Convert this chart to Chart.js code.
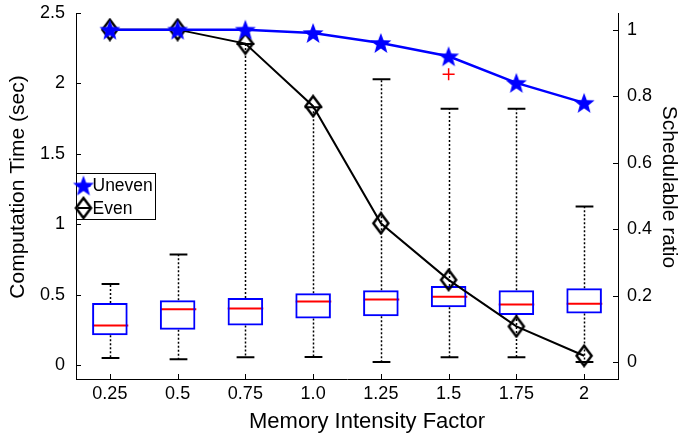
<!DOCTYPE html>
<html>
<head>
<meta charset="utf-8">
<script src="https://cdn.jsdelivr.net/npm/chart.js@4"></script>
<style>
html, body { margin: 0; padding: 0; background: #fff; }
</style>
</head>
<body>
<canvas id="memChart" width="678" height="436"></canvas>
<script>
const factors = ["0.25", "0.5", "0.75", "1.0", "1.25", "1.5", "1.75", "2"];

// computation time (sec) box plot per factor
const timeLow  = [0.05, 0.04, 0.055, 0.057, 0.02, 0.055, 0.055, 0.02];
const timeQ1   = [0.21, 0.25, 0.28, 0.33, 0.345, 0.41, 0.355, 0.365];
const timeMed  = [0.28, 0.395, 0.40, 0.45, 0.465, 0.485, 0.43, 0.435];
const timeQ3   = [0.44, 0.46, 0.475, 0.51, 0.53, 0.56, 0.53, 0.545];
const timeHigh = [0.575, 0.785, 2.28, 1.83, 2.03, 1.82, 1.82, 1.125];
const timeOutlier = [null, null, null, null, null, 2.065, null, null];

// schedulable ratio
const unevenRatio = [1.0, 1.0, 1.0, 0.99, 0.96, 0.92, 0.84, 0.78];
const evenRatio   = [1.0, 1.0, 0.958, 0.77, 0.418, 0.248, 0.108, 0.02];

const timeTicks = [0, 0.5, 1, 1.5, 2, 2.5];
const timeTickLabels = ["0", "0.5", "1", "1.5", "2", "2.5"];
const ratioTicks = [0, 0.2, 0.4, 0.6, 0.8, 1];
const ratioTickLabels = ["0", "0.2", "0.4", "0.6", "0.8", "1"];

const FONT = '"Liberation Sans", Arial, Helvetica, sans-serif';
Chart.defaults.font.family = FONT;
Chart.defaults.color = "#000";

function starMarker(color) {
  const c = document.createElement("canvas");
  c.width = 24; c.height = 24;
  const g = c.getContext("2d");
  g.beginPath();
  for (let i = 0; i < 10; i++) {
    const r = i % 2 ? 4.6 : 11;
    const a = -Math.PI / 2 + i * Math.PI / 5;
    g.lineTo(12 + r * Math.cos(a), 13 + r * Math.sin(a));
  }
  g.closePath();
  g.fillStyle = color;
  g.fill();
  return c;
}

function diamondMarker(color) {
  const c = document.createElement("canvas");
  c.width = 20; c.height = 24;
  const g = c.getContext("2d");
  g.beginPath();
  g.moveTo(10, 2); g.lineTo(17.5, 12); g.lineTo(10, 22); g.lineTo(2.5, 12);
  g.closePath();
  g.lineWidth = 2.5;
  g.strokeStyle = color;
  g.stroke();
  return c;
}

// whiskers, caps and medians of the boxes
const boxExtras = {
  id: "boxExtras",
  beforeDatasetsDraw(chart) {
    const ctx = chart.ctx;
    const xs = chart.scales.x, ys = chart.scales.y;
    const bars = chart.getDatasetMeta(2).data;
    ctx.save();
    factors.forEach((f, i) => {
      const cx = Math.round(xs.getPixelForValue(i)) + 0.5;
      const half = bars[i].width / 2;
      const yLow = ys.getPixelForValue(timeLow[i]);
      const yQ1 = ys.getPixelForValue(timeQ1[i]);
      const yMed = ys.getPixelForValue(timeMed[i]);
      const yQ3 = ys.getPixelForValue(timeQ3[i]);
      const yHigh = ys.getPixelForValue(timeHigh[i]);

      ctx.strokeStyle = "#000";
      ctx.lineWidth = 1.5;
      ctx.setLineDash([2, 2]);
      ctx.beginPath();
      ctx.moveTo(cx, yQ1); ctx.lineTo(cx, yLow);
      ctx.moveTo(cx, yQ3); ctx.lineTo(cx, yHigh);
      ctx.stroke();

      ctx.setLineDash([]);
      ctx.lineWidth = 2;
      ctx.beginPath();
      ctx.moveTo(cx - half / 2, yLow); ctx.lineTo(cx + half / 2, yLow);
      ctx.moveTo(cx - half / 2, yHigh); ctx.lineTo(cx + half / 2, yHigh);
      ctx.stroke();

      ctx.strokeStyle = "#ff0000";
      ctx.beginPath();
      ctx.moveTo(cx - half, yMed); ctx.lineTo(cx + half, yMed);
      ctx.stroke();
    });
    ctx.restore();
  }
};

// matlab style ticks pointing into the plot
const innerTicks = {
  id: "innerTicks",
  afterDraw(chart) {
    const { ctx, chartArea: a, scales } = chart;
    ctx.save();
    ctx.strokeStyle = "#000";
    ctx.lineWidth = 1;
    ctx.beginPath();
    scales.x.ticks.forEach((t, i) => {
      const px = Math.round(scales.x.getPixelForTick(i)) + 0.5;
      ctx.moveTo(px, a.bottom); ctx.lineTo(px, a.bottom - 5);
    });
    scales.y.ticks.forEach((t, i) => {
      const py = Math.round(scales.y.getPixelForTick(i)) + 0.5;
      ctx.moveTo(a.left, py); ctx.lineTo(a.left + 5, py);
    });
    scales.y2.ticks.forEach((t, i) => {
      const py = Math.round(scales.y2.getPixelForTick(i)) + 0.5;
      ctx.moveTo(a.right, py); ctx.lineTo(a.right - 5, py);
    });
    ctx.stroke();
    ctx.restore();
  }
};

// axis titles placed like the matlab figure (slightly off centre)
const axisTitles = {
  id: "axisTitles",
  afterDraw(chart) {
    const ctx = chart.ctx, a = chart.chartArea;
    const midY = (a.top + a.bottom) / 2 - 9;
    ctx.save();
    ctx.fillStyle = "#000";
    ctx.textAlign = "center";
    ctx.textBaseline = "middle";

    ctx.font = "22px " + FONT;
    ctx.fillText("Memory Intensity Factor", (a.left + a.right) / 2 + 20, a.bottom + 43);

    ctx.font = "21px " + FONT;
    ctx.save();
    ctx.translate(a.left - 58, midY);
    ctx.rotate(-Math.PI / 2);
    ctx.fillText("Computation Time (sec)", 0, 0);
    ctx.restore();

    ctx.save();
    ctx.translate(a.right + 51, midY);
    ctx.rotate(Math.PI / 2);
    ctx.fillText("Schedulable ratio", 0, 0);
    ctx.restore();
    ctx.restore();
  }
};

// boxed legend inside the plot, left side
const boxedLegend = {
  id: "boxedLegend",
  afterDraw(chart) {
    const ctx = chart.ctx, a = chart.chartArea;
    const left = Math.round(a.left) + 0.5, top = Math.round(a.top + 160) + 0.5;
    ctx.save();
    ctx.fillStyle = "#fff";
    ctx.fillRect(left, top, 79, 46);
    ctx.strokeStyle = "#000";
    ctx.lineWidth = 1;
    ctx.strokeRect(left, top, 79, 46);
    ctx.font = "17.5px " + FONT;
    ctx.textBaseline = "middle";
    [0, 1].forEach(i => {
      const ds = chart.data.datasets[i];
      const rowY = top + 12 + i * 22.5;
      ctx.strokeStyle = ds.borderColor;
      ctx.lineWidth = ds.borderWidth;
      ctx.beginPath();
      ctx.moveTo(left + 1, rowY); ctx.lineTo(left + 14, rowY);
      ctx.stroke();
      const img = ds.pointStyle;
      ctx.drawImage(img, left + 7 - img.width / 2, rowY - img.height / 2);
      ctx.fillStyle = "#000";
      ctx.fillText(ds.label, left + 16, rowY + 1);
    });
    ctx.restore();
  }
};

const axisLine = { display: true, color: "#000", width: 1 };
const noGrid = { drawOnChartArea: false, drawTicks: false };
function noPad(s) { s.paddingTop = 0; s.paddingBottom = 0; s.paddingLeft = 0; s.paddingRight = 0; }

new Chart(document.getElementById("memChart"), {
  data: {
    labels: factors,
    datasets: [
      {
        type: "line", label: "Uneven", data: unevenRatio, yAxisID: "y2",
        borderColor: "#0000ff", borderWidth: 2.5, pointStyle: starMarker("#0000ff"), tension: 0
      },
      {
        type: "line", label: "Even", data: evenRatio, yAxisID: "y2",
        borderColor: "#000", borderWidth: 2, pointStyle: diamondMarker("#000"), tension: 0
      },
      {
        type: "bar", label: "Computation time", data: timeQ1.map((q, i) => [q, timeQ3[i]]), yAxisID: "y",
        backgroundColor: "rgba(0,0,0,0)", borderColor: "#0000ff", borderWidth: 2, borderSkipped: false,
        barPercentage: 0.525, categoryPercentage: 1
      },
      {
        type: "line", label: "Outlier", data: timeOutlier, yAxisID: "y", showLine: false,
        pointStyle: "cross", pointRadius: 6, pointBorderWidth: 1.5, borderColor: "#ff0000"
      }
    ]
  },
  options: {
    responsive: false,
    animation: false,
    layout: { padding: { top: 13 } },
    plugins: { legend: { display: false }, tooltip: { enabled: false } },
    scales: {
      x: {
        offset: true,
        grid: noGrid,
        border: axisLine,
        ticks: { font: { size: 18 }, padding: 4, maxRotation: 0 },
        afterFit(s) { s.height = 57; noPad(s); }
      },
      y: {
        position: "left",
        min: -0.1, max: 2.5,
        grid: noGrid,
        border: axisLine,
        afterBuildTicks(s) { s.ticks = timeTicks.map(v => ({ value: v })); },
        ticks: { font: { size: 18 }, padding: 11, callback: (v, i) => timeTickLabels[i] },
        afterFit(s) { s.width = 76; noPad(s); }
      },
      y2: {
        position: "right",
        min: -0.05, max: 1.05,
        grid: noGrid,
        border: axisLine,
        afterBuildTicks(s) { s.ticks = ratioTicks.map(v => ({ value: v })); },
        ticks: { font: { size: 18 }, padding: 9, callback: (v, i) => ratioTickLabels[i] },
        afterFit(s) { s.width = 60; noPad(s); }
      }
    }
  },
  plugins: [boxExtras, innerTicks, axisTitles, boxedLegend]
});
</script>
</body>
</html>
